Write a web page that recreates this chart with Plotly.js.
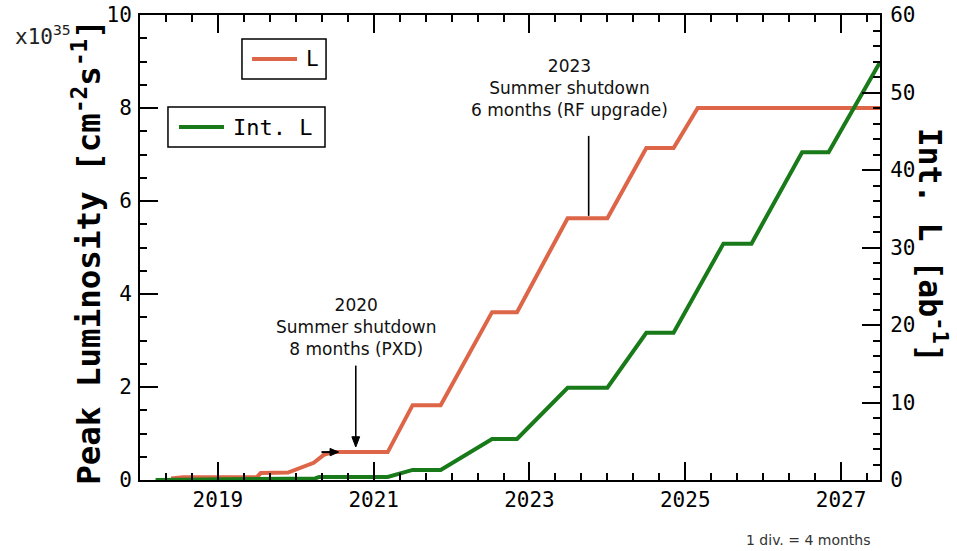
<!DOCTYPE html>
<html>
<head>
<meta charset="utf-8">
<script src="https://cdn.plot.ly/plotly-3.0.1.min.js"></script>
<style>html,body{margin:0;padding:0;background:#fff;}#chart{width:957px;height:551px;}</style>
</head>
<body>
<div id="chart"></div>
<script>
// Peak luminosity (x10^35 cm^-2 s^-1) vs. time
const yearsL = [2018.4, 2018.55, 2019.5, 2019.55, 2019.9, 2020.02, 2020.23, 2020.36, 2020.47, 2021.18, 2021.5, 2021.86, 2022.52, 2022.84, 2023.49, 2024.0, 2024.5, 2024.85, 2025.16, 2027.5];
const peakL  = [0.03, 0.06, 0.06, 0.15, 0.16, 0.24, 0.37, 0.54, 0.6, 0.6, 1.61, 1.61, 3.61, 3.61, 5.63, 5.63, 7.14, 7.14, 8.0, 8.0];
// Integrated luminosity (ab^-1) vs. time
const yearsInt = [2018.2, 2019.5, 2019.55, 2020.25, 2020.3, 2021.18, 2021.5, 2021.86, 2022.52, 2022.84, 2023.49, 2024.0, 2024.5, 2024.85, 2025.49, 2025.85, 2026.5, 2026.84, 2027.5];
const intL     = [0, 0.05, 0.12, 0.2, 0.4, 0.4, 1.3, 1.3, 5.3, 5.3, 11.9, 11.9, 19.0, 19.0, 30.5, 30.5, 42.3, 42.3, 53.9];

const seriesNames = ['L', 'Int. L'];
const xTickVals = [2019, 2021, 2023, 2025, 2027];
const xTickText = ['2019', '2021', '2023', '2025', '2027'];

const mono = 'DejaVu Sans Mono, monospace';
const sans = 'DejaVu Sans, sans-serif';
const red = 'rgb(222,102,72)';
const green = 'rgb(24,122,24)';

const traces = [
  {x: yearsL, y: peakL, type: 'scatter', mode: 'lines', name: seriesNames[0],
   line: {color: red, width: 4}, yaxis: 'y', showlegend: false},
  {x: yearsInt, y: intL, type: 'scatter', mode: 'lines', name: seriesNames[1],
   line: {color: green, width: 4}, yaxis: 'y2', showlegend: false}
];

const axisCommon = {
  showline: true, linecolor: 'black', linewidth: 2,
  ticks: 'inside', tickcolor: 'black', tickwidth: 2, ticklen: 18,
  showgrid: false, zeroline: false,
  tickfont: {family: mono, size: 21, color: 'black'}
};

// legend boxes drawn by hand (two separate boxes as in the reference)
const legendBoxes = [
  {x0: 0.1378, x1: 0.2514, y0: 0.8624, y1: 0.9484, lx0: 0.1514, lx1: 0.2122, ly: 0.9054, tx: 0.221, size: 21, color: red, name: seriesNames[0]},
  {x0: 0.0378, x1: 0.2500, y0: 0.7161, y1: 0.8022, lx0: 0.0527, lx1: 0.1135, ly: 0.7591, tx: 0.1230, size: 22, color: green, name: seriesNames[1]}
];

const shapes = [];
const annotations = [];
legendBoxes.forEach(b => {
  shapes.push({type: 'rect', xref: 'paper', yref: 'paper', x0: b.x0, x1: b.x1, y0: b.y0, y1: b.y1,
               line: {color: 'black', width: 1.5}, fillcolor: 'white', layer: 'above'});
  shapes.push({type: 'line', xref: 'paper', yref: 'paper', x0: b.lx0, x1: b.lx1, y0: b.ly, y1: b.ly,
               line: {color: b.color, width: 4}, layer: 'above'});
  annotations.push({xref: 'paper', yref: 'paper', x: b.tx, y: b.ly, xanchor: 'left', yanchor: 'middle',
                    showarrow: false, text: b.name, font: {family: mono, size: b.size, color: 'black'}});
});

// arrows (shaft + head) in data coordinates
const arrowShaft = {type: 'line', xref: 'x', yref: 'y', line: {color: 'black', width: 1.6}, layer: 'above'};
shapes.push(Object.assign({}, arrowShaft, {x0: 2020.77, x1: 2020.77, y0: 2.46, y1: 0.85}));
shapes.push({type: 'path', xref: 'x', yref: 'y', layer: 'above', fillcolor: 'black', line: {color: 'black', width: 1},
             path: 'M 2020.72 0.93 L 2020.82 0.93 L 2020.77 0.71 Z'});
shapes.push(Object.assign({}, arrowShaft, {x0: 2023.76, x1: 2023.76, y0: 7.4, y1: 5.68}));
shapes.push(Object.assign({}, arrowShaft, {x0: 2020.33, x1: 2020.45, y0: 0.6, y1: 0.6, line: {color: 'black', width: 2}}));
shapes.push({type: 'path', xref: 'x', yref: 'y', layer: 'above', fillcolor: 'black', line: {color: 'black', width: 1},
             path: 'M 2020.44 0.68 L 2020.44 0.52 L 2020.55 0.6 Z'});

annotations.push(
  {xref: 'paper', yref: 'paper', x: -0.072, y: 0.49, xanchor: 'center', yanchor: 'middle', textangle: -90, showarrow: false,
   text: 'Peak Luminosity [cm<sup>-2</sup>s<sup>-1</sup>]',
   font: {family: mono, size: 32.5, color: 'black', weight: 'bold'}},
  {xref: 'paper', yref: 'paper', x: 1.071, y: 0.505, xanchor: 'center', yanchor: 'middle', textangle: 90, showarrow: false,
   text: 'Int. L [ab<sup>-1</sup>]',
   font: {family: mono, size: 31.5, color: 'black', weight: 'bold'}},
  {xref: 'paper', yref: 'paper', x: -0.1716, y: 0.957, xanchor: 'left', yanchor: 'middle', showarrow: false,
   text: 'x10<sup>35</sup>', font: {family: mono, size: 21, color: '#222'}},
  {xref: 'paper', yref: 'paper', x: 0.9905, y: -0.129, xanchor: 'right', yanchor: 'middle', showarrow: false,
   text: '1 div. = 4 months', font: {family: sans, size: 14, color: '#333'}},
  {xref: 'x', yref: 'y', x: 2020.77, y: 3.29, xanchor: 'center', yanchor: 'middle', showarrow: false,
   text: '2020<br>Summer shutdown<br>8 months (PXD)', font: {family: sans, size: 17, color: '#111'}},
  {xref: 'x', yref: 'y', x: 2023.52, y: 8.43, xanchor: 'center', yanchor: 'middle', showarrow: false,
   text: '2023<br>Summer shutdown<br>6 months (RF upgrade)', font: {family: sans, size: 17, color: '#111'}}
);

const layout = {
  width: 957, height: 551,
  margin: {l: 140, r: 77, t: 15, b: 71},
  paper_bgcolor: 'white', plot_bgcolor: 'white',
  showlegend: false,
  xaxis: Object.assign({}, axisCommon, {
    range: [2018, 2027.5], tickvals: xTickVals, ticktext: xTickText,
    mirror: 'ticks', ticklabelstandoff: 0,
    minor: {dtick: 1/3, tick0: 2019, ticks: 'inside', ticklen: 7, tickcolor: 'black', tickwidth: 2, showgrid: false}
  }),
  yaxis: Object.assign({}, axisCommon, {
    range: [0, 10], dtick: 2, tick0: 0, ticklabelstandoff: 2,
    minor: {dtick: 0.5, ticks: 'inside', ticklen: 7, tickcolor: 'black', tickwidth: 2, showgrid: false}
  }),
  yaxis2: Object.assign({}, axisCommon, {
    range: [0, 60], dtick: 10, tick0: 0, overlaying: 'y', side: 'right', ticklabelstandoff: 4,
    minor: {dtick: 2, ticks: 'inside', ticklen: 7, tickcolor: 'black', tickwidth: 2, showgrid: false}
  }),
  shapes: shapes,
  annotations: annotations
};

Plotly.newPlot('chart', traces, layout, {staticPlot: true, displayModeBar: false});
</script>
</body>
</html>
